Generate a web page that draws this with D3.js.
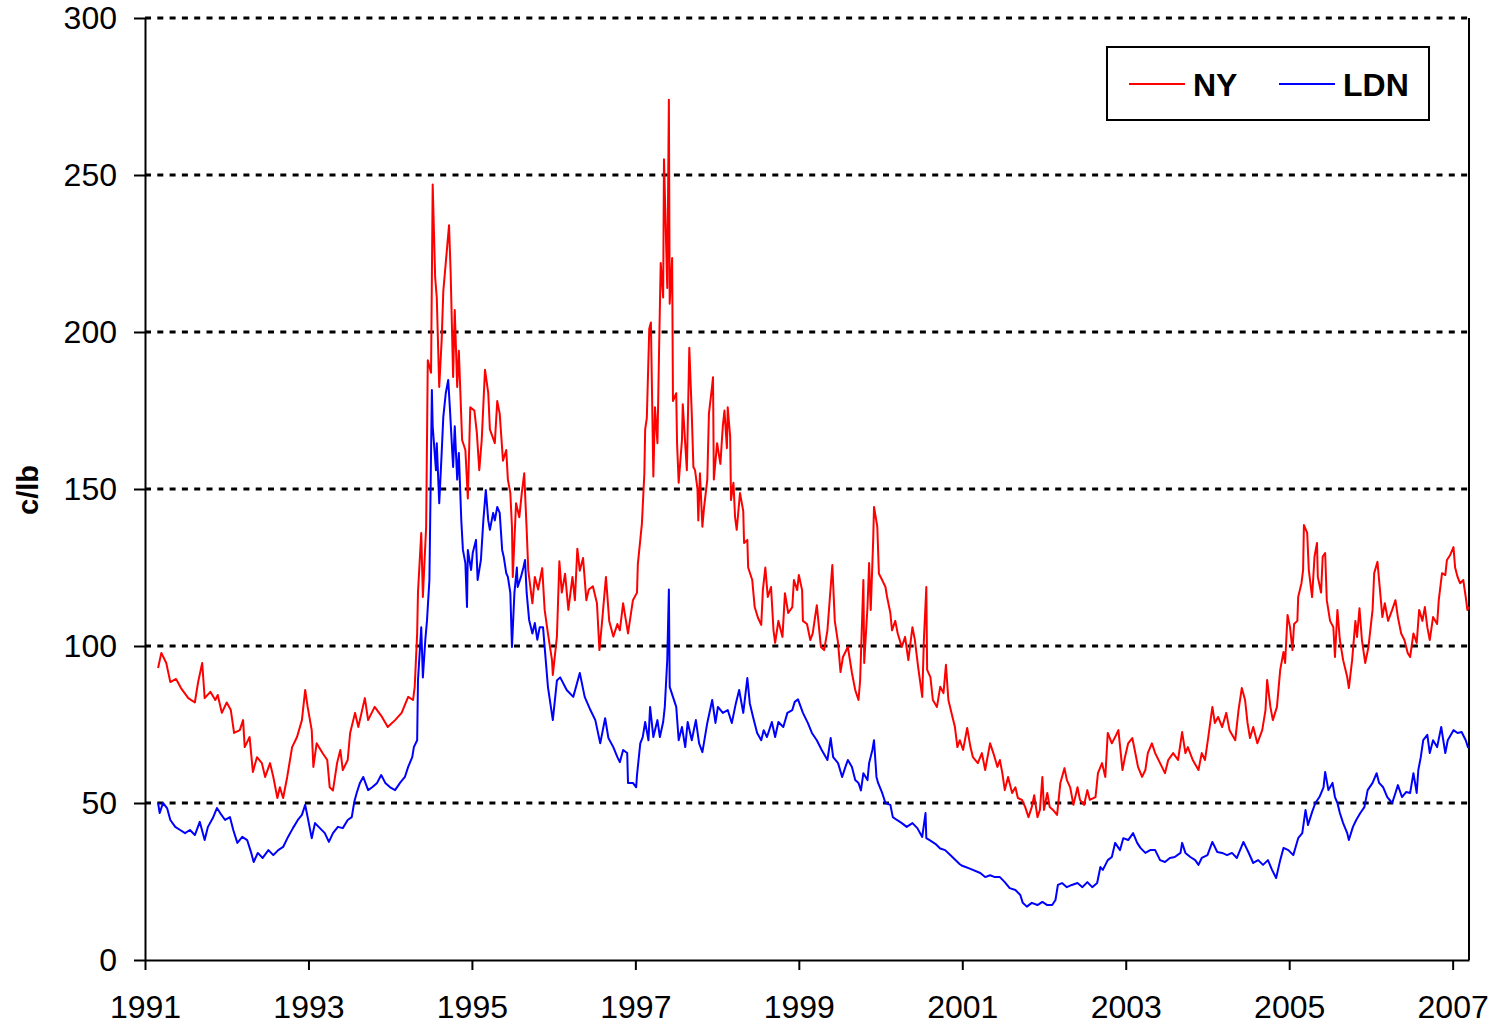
<!DOCTYPE html>
<html>
<head>
<meta charset="utf-8">
<script src="https://cdn.jsdelivr.net/npm/d3@7"></script>
<style>
  body { margin: 0; background: #fff; }
  text { font-family: "Liberation Sans", Arial, sans-serif; }
</style>
</head>
<body>
<div id="chart"></div>
<script>
// coffee prices, c/lb - decimal years
const nyDates = [
  1991.16,1991.20,1991.26,1991.31,1991.38,1991.44,1991.53,1991.61,1991.65,1991.70,
  1991.73,1991.80,1991.86,1991.89,1991.94,1992.00,1992.05,1992.09,1992.16,1992.20,
  1992.22,1992.28,1992.32,1992.37,1992.43,1992.47,1992.53,1992.57,1992.62,1992.65,
  1992.69,1992.74,1992.80,1992.86,1992.92,1992.96,1992.99,1993.04,1993.06,1993.10,
  1993.17,1993.23,1993.26,1993.30,1993.35,1993.39,1993.42,1993.48,1993.51,1993.57,
  1993.61,1993.69,1993.73,1993.81,1993.90,1993.97,1994.06,1994.14,1994.22,1994.28,
  1994.30,1994.33,1994.34,1994.38,1994.40,1994.44,1994.46,1994.50,1994.52,1994.55,
  1994.57,1994.60,1994.63,1994.65,1994.70,1994.72,1994.74,1994.77,1994.79,1994.82,
  1994.84,1994.88,1994.92,1994.95,1994.98,1995.03,1995.06,1995.09,1995.12,1995.16,
  1995.20,1995.22,1995.28,1995.31,1995.34,1995.38,1995.42,1995.44,1995.47,1995.49,
  1995.50,1995.54,1995.58,1995.61,1995.64,1995.67,1995.69,1995.74,1995.77,1995.81,
  1995.86,1995.89,1995.93,1995.98,1995.99,1996.04,1996.07,1996.10,1996.14,1996.18,
  1996.23,1996.26,1996.29,1996.32,1996.36,1996.40,1996.43,1996.48,1996.53,1996.56,
  1996.59,1996.64,1996.68,1996.73,1996.78,1996.81,1996.85,1996.91,1996.97,1997.02,
  1997.03,1997.08,1997.11,1997.12,1997.14,1997.17,1997.19,1997.22,1997.24,1997.27,
  1997.29,1997.31,1997.34,1997.35,1997.39,1997.41,1997.42,1997.45,1997.46,1997.50,
  1997.51,1997.53,1997.57,1997.58,1997.63,1997.66,1997.69,1997.71,1997.73,1997.76,
  1997.77,1997.79,1997.82,1997.84,1997.88,1997.90,1997.94,1997.95,1997.96,1998.00,
  1998.04,1998.07,1998.09,1998.12,1998.13,1998.16,1998.17,1998.20,1998.22,1998.24,
  1998.28,1998.32,1998.33,1998.37,1998.38,1998.43,1998.46,1998.50,1998.54,1998.56,
  1998.59,1998.62,1998.66,1998.69,1998.71,1998.75,1998.80,1998.83,1998.87,1998.92,
  1998.94,1998.98,1999.00,1999.04,1999.05,1999.10,1999.14,1999.17,1999.22,1999.27,
  1999.31,1999.35,1999.41,1999.44,1999.48,1999.51,1999.54,1999.60,1999.65,1999.69,
  1999.73,1999.75,1999.79,1999.80,1999.84,1999.86,1999.88,1999.91,1999.92,1999.96,
  1999.98,2000.02,2000.06,2000.08,2000.12,2000.14,2000.18,2000.21,2000.26,2000.30,
  2000.34,2000.39,2000.42,2000.46,2000.51,2000.53,2000.56,2000.57,2000.61,2000.64,
  2000.69,2000.73,2000.77,2000.80,2000.83,2000.88,2000.91,2000.94,2000.97,2001.01,
  2001.06,2001.10,2001.13,2001.19,2001.24,2001.28,2001.34,2001.38,2001.43,2001.46,
  2001.49,2001.52,2001.56,2001.61,2001.65,2001.68,2001.73,2001.77,2001.81,2001.85,
  2001.88,2001.92,2001.95,2001.98,2002.00,2002.04,2002.07,2002.11,2002.16,2002.20,
  2002.25,2002.28,2002.32,2002.36,2002.41,2002.44,2002.49,2002.53,2002.56,2002.63,
  2002.66,2002.71,2002.75,2002.78,2002.83,2002.87,2002.91,2002.96,2002.99,2003.03,
  2003.08,2003.11,2003.15,2003.20,2003.24,2003.27,2003.32,2003.36,2003.42,2003.48,
  2003.52,2003.58,2003.64,2003.69,2003.73,2003.76,2003.82,2003.89,2003.93,2003.97,
  2004.01,2004.06,2004.09,2004.13,2004.18,2004.23,2004.27,2004.34,2004.38,2004.42,
  2004.46,2004.49,2004.52,2004.56,2004.61,2004.67,2004.71,2004.73,2004.77,2004.80,
  2004.85,2004.89,2004.93,2004.95,2004.98,2005.01,2005.04,2005.06,2005.10,2005.11,
  2005.15,2005.17,2005.18,2005.22,2005.24,2005.28,2005.31,2005.34,2005.35,2005.39,
  2005.41,2005.44,2005.46,2005.50,2005.54,2005.56,2005.59,2005.62,2005.66,2005.71,
  2005.73,2005.77,2005.81,2005.83,2005.86,2005.89,2005.93,2005.97,2006.02,2006.04,
  2006.08,2006.10,2006.14,2006.17,2006.21,2006.26,2006.30,2006.33,2006.37,2006.41,
  2006.45,2006.48,2006.52,2006.56,2006.59,2006.63,2006.66,2006.69,2006.72,2006.76,
  2006.81,2006.83,2006.87,2006.91,2006.93,2006.97,2007.01,2007.03,2007.06,2007.09,
  2007.13,2007.16,2007.18,2007.20
];
const nyValues = [
  93,97.8,94.6,88.5,89.5,86.6,83.4,82,88.5,94.6,
  83.4,85.4,82.8,84.4,78.7,82,79.6,72.3,73.2,76.4,
  67.8,71,59.9,64.6,62.7,58.3,62.7,58.3,51.6,55,
  51.6,58.3,67.8,71,76.4,86,80.6,73.2,61.5,69,
  66,63.7,55,54,62.7,66.9,60.5,63.7,72.3,78.7,
  74.2,83.4,76.4,80.6,77.4,74.2,76.4,78.7,83.8,82.8,
  87,104,117,136,115.6,138,191,187,247,217.5,
  211,182.5,197.5,213,228,234,218.8,185.7,207,182.5,
  194,165.6,162.4,147,176,175,168,156,165.6,188,
  180.5,169,164.6,178,174,159,162.4,153,148.7,138,
  122,145.5,141,148.7,155,137,124,113.6,122,118,
  124.8,111.5,104,95.5,90.8,103,127,117,123,111.5,
  122,114.6,131,124,128,114.6,118,119,113.6,98.7,
  107,122,108,103,107,105,113.6,104,114.6,117,
  126,139,155,169,172.6,201,203,154,176,164.6,
  194,222,211,255,214,274,209,223.6,178,180.5,
  164.6,152,165.6,177,156,195,174,157,156,150,
  140,155,138,144,153,174,183,185.6,153,164.6,
  158,170,175,163,176,166.6,146.5,152,141,137,
  148.7,143,132.8,133.8,125,121,112.4,109,106.7,117.8,
  125,115.6,118.8,105,101,108,102.9,116.8,110.5,112.4,
  121,117.8,122.6,117.8,108,107,101.9,104,113,99.7,
  98.7,105,125.8,108,101,91.7,96.5,99.7,91.4,86,
  82.8,89,121,94.6,112.4,126.4,111.5,133.8,144.3,138,
  123,121,118.8,115.6,110.5,105,108,104,99.7,102.9,
  95.5,106,101.9,93.3,83.8,101.9,118.8,92.4,90.1,82.8,
  80.6,87,85,94,82.8,77.4,74.2,67.8,70,66.9,
  73.9,67.8,64.6,62.7,65.9,60.5,69,65.9,61.5,63.7,
  59.5,54.1,58.3,53.2,55,51.6,51,48.7,45.5,48.7,
  52.5,45.5,47.8,58.3,47.8,53.2,48.7,47.8,46.2,56.4,
  61.1,57.3,55,49.4,55,51,49.4,54.1,51,51.9,
  59.5,62.7,58.3,72.3,69,71,73.2,60.5,64.6,69,
  70.7,66.9,61.5,58.3,60.5,65.9,69,65.9,62.7,59.5,
  63.7,65.9,63.7,72.6,65.9,67.8,63.7,60.5,65.9,63.7,
  71,80.6,75.5,77.4,74.2,78.7,73.2,70,79.6,86.6,
  82.8,75.5,70.7,74.2,69,73.2,79.6,89.2,80.6,76.4,
  80.6,92.4,98.1,94.6,109.9,106,98.7,107,108,115.6,
  120,124.2,138.5,136,124.2,115.6,128.5,132.8,122,117,
  128.5,129.6,114.6,108,106,96.5,111.5,101.9,95.5,90.1,
  86.6,95.5,108,102.9,112,101.9,94.6,99.7,111.5,123.2,
  126.8,121,109.2,113.6,108,111.5,114.6,109.2,104,101.9,
  97.8,96.5,104,101,111.5,108,112.4,106,101.9,109.2,
  107,114.6,123.2,122.6,127.4,129,131.5,125,122,120,
  121,115.6,111.5,112.4
];

const ldnDates = [
  1991.16,1991.18,1991.22,1991.27,1991.31,1991.37,1991.43,1991.49,1991.55,1991.61,
  1991.67,1991.73,1991.77,1991.83,1991.88,1991.92,1991.98,1992.04,1992.08,1992.13,
  1992.19,1992.25,1992.30,1992.33,1992.38,1992.44,1992.51,1992.57,1992.63,1992.69,
  1992.75,1992.81,1992.87,1992.92,1992.96,1992.99,1993.04,1993.08,1993.14,1993.20,
  1993.25,1993.30,1993.36,1993.42,1993.48,1993.53,1993.56,1993.59,1993.63,1993.67,
  1993.73,1993.78,1993.84,1993.89,1993.94,1994.00,1994.06,1994.12,1994.18,1994.22,
  1994.27,1994.29,1994.33,1994.34,1994.38,1994.40,1994.43,1994.45,1994.48,1994.51,
  1994.52,1994.56,1994.57,1994.60,1994.63,1994.65,1994.68,1994.71,1994.73,1994.76,
  1994.77,1994.79,1994.82,1994.84,1994.87,1994.89,1994.92,1994.94,1994.95,1994.99,
  1995.01,1995.05,1995.07,1995.11,1995.14,1995.17,1995.20,1995.22,1995.26,1995.28,
  1995.31,1995.34,1995.37,1995.39,1995.42,1995.44,1995.47,1995.49,1995.52,1995.55,
  1995.56,1995.60,1995.63,1995.65,1995.67,1995.70,1995.74,1995.77,1995.80,1995.83,
  1995.87,1995.89,1995.93,1995.99,1996.04,1996.08,1996.16,1996.24,1996.32,1996.38,
  1996.45,1996.51,1996.57,1996.63,1996.67,1996.73,1996.78,1996.81,1996.85,1996.90,
  1996.91,1996.97,1997.01,1997.02,1997.06,1997.09,1997.12,1997.16,1997.18,1997.22,
  1997.27,1997.30,1997.34,1997.36,1997.39,1997.41,1997.42,1997.46,1997.50,1997.53,
  1997.57,1997.61,1997.64,1997.69,1997.74,1997.78,1997.82,1997.88,1997.94,1997.98,
  1998.01,1998.07,1998.13,1998.18,1998.23,1998.27,1998.32,1998.37,1998.40,1998.44,
  1998.49,1998.54,1998.57,1998.61,1998.67,1998.71,1998.75,1998.81,1998.86,1998.92,
  1998.95,1998.99,1999.05,1999.11,1999.16,1999.22,1999.28,1999.35,1999.39,1999.42,
  1999.48,1999.53,1999.57,1999.60,1999.65,1999.69,1999.73,1999.76,1999.79,1999.84,
  1999.86,1999.90,1999.92,1999.95,1999.97,2000.02,2000.06,2000.12,2000.15,2000.20,
  2000.26,2000.32,2000.39,2000.45,2000.51,2000.55,2000.56,2000.61,2000.67,2000.73,
  2000.79,2000.85,2000.91,2000.97,
  2001.00,2001.10,2001.22,2001.28,2001.34,2001.40,2001.46,2001.52,2001.58,2001.65,
  2001.71,2001.74,2001.79,2001.85,2001.92,2001.98,2002.04,2002.10,2002.14,2002.17,
  2002.22,2002.28,2002.34,2002.41,2002.47,2002.53,2002.59,2002.65,2002.69,2002.72,
  2002.78,2002.83,2002.87,2002.93,2002.97,2003.03,2003.09,2003.14,2003.18,2003.24,
  2003.30,2003.36,2003.42,2003.48,2003.54,2003.60,2003.67,2003.69,2003.73,2003.79,
  2003.85,2003.89,2003.93,2004.00,2004.06,2004.12,2004.18,2004.24,2004.30,2004.36,
  2004.44,2004.50,2004.56,2004.62,2004.68,2004.74,2004.79,2004.84,2004.89,2004.93,
  2004.99,2005.05,2005.11,2005.16,2005.20,2005.23,2005.28,2005.32,2005.37,2005.42,
  2005.44,2005.48,2005.53,2005.56,2005.59,2005.62,2005.66,2005.71,2005.73,2005.78,
  2005.82,2005.87,2005.92,2005.96,2006.02,2006.07,2006.10,2006.15,2006.20,2006.26,
  2006.30,2006.33,2006.38,2006.43,2006.48,2006.52,2006.56,2006.58,2006.61,2006.64,
  2006.69,2006.72,2006.76,2006.81,2006.86,2006.91,2006.94,2007.01,2007.06,2007.11,
  2007.16,2007.19
];
const ldnValues = [
  50,46.8,50,48.4,44.6,42.4,41.4,40.4,41.4,39.8,
  44,38.2,42.4,45.2,48.4,46.8,44.6,45.5,41.4,37.3,
  39.2,38.2,34.1,31.2,34.1,32.5,35,33.4,35,36,
  39.2,42,44.6,46.2,49.4,45.5,38.8,43.6,42,40.4,
  37.6,40.4,42.4,42,44.6,45.5,50.3,53.2,56.4,58.3,
  54.1,55,56.4,58.9,56.4,55,54.1,56.4,58.3,61.5,
  64.6,67.8,70,89,106,90,102,108,121,181.5,
  170,156,164.6,145.5,161.5,173,180.5,184.7,176,161.5,
  157,170,153,161.5,140,130.6,126.4,112.4,130.6,124.2,
  129.6,133.8,121,127.4,140,149.7,140,137,142.4,140,
  144.3,142.4,130.6,128.3,123.2,122,116.9,99.7,116.9,125,
  118.8,122,125,127.4,116.9,108.3,104,107.3,102,106,
  106,99.7,87,76.4,89,90,86,83.8,91.4,83.8,
  79.6,76.4,69,77,70.7,67.8,64.6,63,66.9,65.9,
  56.4,56.4,55,58.9,69,71,75.8,70,80.6,71,
  76.4,71,75.8,80.6,95.5,118,87,83.8,80.6,70,
  74.2,67.8,75.8,70,76.4,69,66.2,75.5,82.8,75.5,
  80.6,78.7,79.6,75.5,81.8,86,78.7,89.8,81.8,77.4,
  72.3,70,73.2,71,75.8,71,75.8,74.2,78.7,79.6,
  82.2,83,78.7,75.5,72.3,70,66.9,63.7,70.7,64.6,
  62.7,58.3,61.5,63.7,61.5,57.3,56.4,54,59.5,57.3,
  62.7,66.9,70,58.3,56.4,53.2,50,49.4,45.5,44.6,
  43.6,42.4,43.6,42,39.2,46.8,38.8,38,37,35.5,
  35,33.5,32,30.5,
  30,29,27.7,26.4,27,26.4,26.4,24.8,22.9,22.3,
  20.7,18.2,17,18.2,17.5,18.5,17.5,17.5,19.1,23.9,
  24.5,23.2,23.9,24.5,23.2,24.8,23.2,24.5,29.6,28.7,
  31.8,32.8,37.3,35,38.8,38.2,40.4,37.3,35.7,34.1,
  35,35,31.8,31.2,32.5,32.8,34.1,37.3,34.1,32.8,
  31.8,30.3,32.5,33.4,37.6,34.4,34.1,33.4,34.1,32.5,
  37.6,34.4,30.9,31.8,30.3,31.8,28.7,26.1,31.8,35.7,
  35,33.4,38.8,40.4,47.8,43,47.1,50,51.9,55,
  59.9,54.1,56.4,51.9,50,46.8,43.6,40.4,38.2,42.4,
  44.6,46.8,48.7,54.1,56.4,59.5,56.4,55,51.9,50,
  53.2,55.7,51.9,53.5,53.2,59.5,53.2,60.5,64.6,70,
  71.7,65.9,70,67.8,74.2,65.9,70,73.2,72.3,72.6,
  70,67.5
];

const yTicks = [0, 50, 100, 150, 200, 250, 300];
const gridTicks = [50, 100, 150, 200, 250, 300];
const xTicks = [1991, 1993, 1995, 1997, 1999, 2001, 2003, 2005, 2007];
const seriesNames = ["NY", "LDN"];
const seriesColors = ["#ff0000", "#0000ff"];

const margin = { top: 18, right: 28, bottom: 65, left: 145 };
const width = 1497 - margin.left - margin.right;
const height = 1025 - margin.top - margin.bottom;

const svg = d3.select("#chart")
  .append("svg")
  .attr("width", 1497)
  .attr("height", 1025)
  .append("g")
  .attr("transform", `translate(${margin.left},${margin.top})`);

const x = d3.scaleLinear()
  .domain([1991, 2007.2])
  .range([0, width]);

const y = d3.scaleLinear()
  .domain([0, 300])
  .range([height, 0]);

// dotted gridlines
svg.selectAll(".grid")
  .data(gridTicks)
  .enter()
  .append("line")
  .attr("class", "grid")
  .attr("x1", 0)
  .attr("x2", width)
  .attr("y1", d => y(d))
  .attr("y2", d => y(d))
  .attr("stroke", "#000")
  .attr("stroke-width", 3)
  .attr("stroke-dasharray", "6,6.3");

// right border
svg.append("line")
  .attr("x1", width).attr("x2", width)
  .attr("y1", 0).attr("y2", height)
  .attr("stroke", "#000")
  .attr("stroke-width", 2);

const line = d3.line()
  .x(d => x(d[0]))
  .y(d => y(d[1]));

svg.append("path")
  .datum(d3.zip(nyDates, nyValues))
  .attr("fill", "none")
  .attr("stroke", seriesColors[0])
  .attr("stroke-width", 2)
  .attr("stroke-linejoin", "round")
  .attr("d", line);

svg.append("path")
  .datum(d3.zip(ldnDates, ldnValues))
  .attr("fill", "none")
  .attr("stroke", seriesColors[1])
  .attr("stroke-width", 2)
  .attr("stroke-linejoin", "round")
  .attr("d", line);

// axes
const yAxis = svg.append("g")
  .call(d3.axisLeft(y).tickValues(yTicks).tickSize(11).tickSizeOuter(0).tickPadding(17));

const xAxis = svg.append("g")
  .attr("transform", `translate(0,${height})`)
  .call(d3.axisBottom(x).tickValues(xTicks).tickFormat(d3.format("d"))
    .tickSize(10).tickSizeOuter(0).tickPadding(25));

[yAxis, xAxis].forEach(a => {
  a.select(".domain").attr("stroke", "#000").attr("stroke-width", 2);
  a.selectAll(".tick line").attr("stroke", "#000").attr("stroke-width", 2);
  a.selectAll("text")
    .attr("fill", "#000")
    .style("font-size", "32px")
    .style("font-family", "'Liberation Sans', Arial, sans-serif");
});

// axis title
svg.append("text")
  .attr("transform", "rotate(-90)")
  .attr("x", -(490 - margin.top))
  .attr("y", 28 - margin.left)
  .attr("dy", "0.35em")
  .attr("text-anchor", "middle")
  .style("font-size", "29px")
  .style("font-weight", "bold")
  .text("c/lb");

// legend
const legend = svg.append("g")
  .attr("transform", `translate(${1107 - margin.left},${47 - margin.top})`);

legend.append("rect")
  .attr("width", 322)
  .attr("height", 73)
  .attr("fill", "#fff")
  .attr("stroke", "#000")
  .attr("stroke-width", 2);

const legendX = [22, 172];
seriesNames.forEach((name, i) => {
  legend.append("line")
    .attr("x1", legendX[i]).attr("x2", legendX[i] + 56)
    .attr("y1", 37).attr("y2", 37)
    .attr("stroke", seriesColors[i])
    .attr("stroke-width", 2);
  legend.append("text")
    .attr("x", legendX[i] + 64)
    .attr("y", 37)
    .attr("dy", "0.36em")
    .style("font-size", "32px")
    .style("font-weight", "bold")
    .text(name);
});
</script>
</body>
</html>
